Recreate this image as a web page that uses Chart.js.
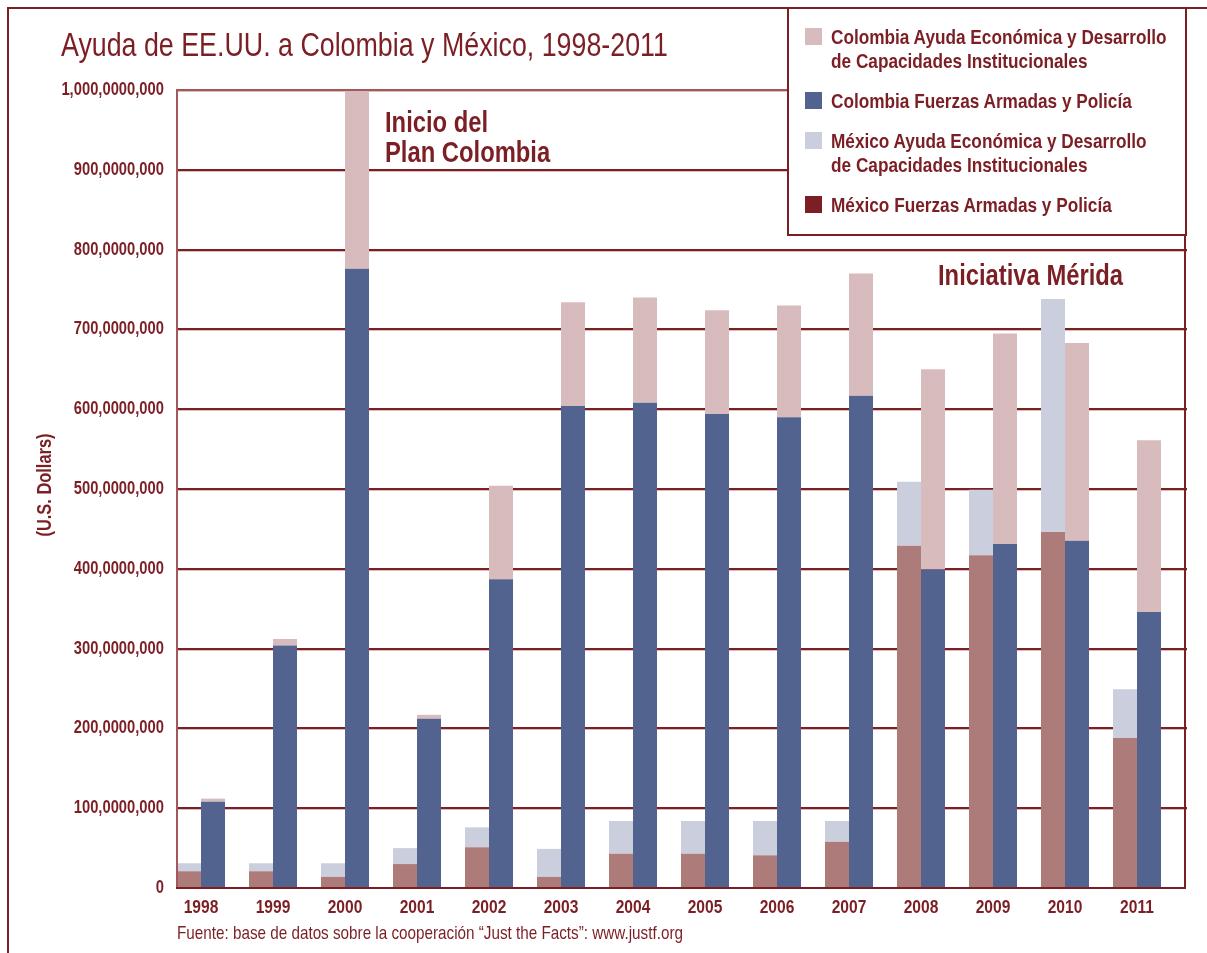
<!DOCTYPE html>
<html>
<head>
<meta charset="utf-8">
<script src="https://cdn.jsdelivr.net/npm/chart.js@4.4.0/dist/chart.umd.min.js"></script>
<style>
body { margin: 0; background: #fff; }
#wrap { position: relative; width: 1207px; height: 953px; overflow: hidden;
  font-family: "Liberation Sans", Arial, sans-serif; color: #7b1f25; }
#grafico { position: absolute; left: 0; top: 0; }
.marco { position: absolute; left: 7px; top: 7px; width: 1400px; height: 1200px;
  border-left: 2px solid #7b1f25; border-top: 2px solid #7b1f25; }
.txt { position: absolute; white-space: nowrap; line-height: 1; transform: scaleX(0.82); transform-origin: 0 0; }
#titulo { left: 61px; top: 29px; font-size: 32.7px; }
#ejeY { left: 44px; top: 485px; font-size: 20px; font-weight: bold; transform-origin: 50% 50%;
  transform: translate(-50%, -50%) rotate(-90deg) scaleX(0.82); }
#fuente { left: 177px; top: 924px; font-size: 18.6px; }
.nota { font-size: 29px; font-weight: bold; line-height: 30px; }
#leyenda { position: absolute; left: 787px; top: 7px; width: 396px; height: 225px; background: #fff;
  border: 2px solid #7b1f25; }
.item { left: 42px; font-size: 21px; font-weight: bold; line-height: 24px; }
.cuadro { position: absolute; left: 16px; width: 17px; height: 17px; }
</style>
</head>
<body>
<div id="wrap">
  <canvas id="grafico" width="1207" height="953"></canvas>
  <div class="marco"></div>
  <div class="txt" id="titulo">Ayuda de EE.UU. a Colombia y México, 1998-2011</div>
  <div class="txt" id="ejeY">(U.S. Dollars)</div>
  <div class="txt nota" style="left:385px; top:107px;">Inicio del<br>Plan Colombia</div>
  <div class="txt nota" style="left:938px; top:260px;">Iniciativa Mérida</div>
  <div class="txt" id="fuente">Fuente: base de datos sobre la cooperación “Just the Facts”: www.justf.org</div>
  <div id="leyenda"></div>
</div>
<script>
// valores en millones de dólares (altura de cada tramo de la pila)
const anios = ['1998','1999','2000','2001','2002','2003','2004','2005','2006','2007','2008','2009','2010','2011'];
const mexFuerzas = [21, 21, 14, 30, 51, 14, 43, 43, 41, 58, 429, 417, 446, 188];
const mexAyuda = [10, 10, 17, 20, 25, 35, 41, 41, 43, 26, 80, 82, 292, 61];
const colFuerzas = [108, 304, 776, 212, 387, 604, 608, 594, 590, 617, 399, 431, 435, 346];
const colAyuda = [4, 8, 224, 5, 117, 130, 132, 130, 140, 153, 251, 264, 248, 215];
const etiquetasY = ['0','100,0000,000','200,0000,000','300,0000,000','400,0000,000','500,0000,000',
  '600,0000,000','700,0000,000','800,0000,000','900,0000,000','1,000,0000,000'];

const granate = '#7b1f25';
const fuente = '"Liberation Sans", Arial, sans-serif';

// orden de apilado: de abajo hacia arriba, México a la izquierda
const series = [
  { label: 'México Fuerzas Armadas y Policía', data: mexFuerzas, color: '#ad7b79', stack: 'mex' },
  { label: 'México Ayuda Económica y Desarrollo de Capacidades Institucionales', data: mexAyuda, color: '#cbcfdd', stack: 'mex' },
  { label: 'Colombia Fuerzas Armadas y Policía', data: colFuerzas, color: '#53638f', stack: 'col' },
  { label: 'Colombia Ayuda Económica y Desarrollo de Capacidades Institucionales', data: colAyuda, color: '#d8bbbd', stack: 'col' }
];

// leyenda a mano (textos de dos líneas)
const itemsLeyenda = [
  { lineas: ['Colombia Ayuda Económica y Desarrollo', 'de Capacidades Institucionales'], color: '#d8bbbd', top: 16 },
  { lineas: ['Colombia Fuerzas Armadas y Policía'], color: '#53638f', top: 80 },
  { lineas: ['México Ayuda Económica y Desarrollo', 'de Capacidades Institucionales'], color: '#cbcfdd', top: 120 },
  { lineas: ['México Fuerzas Armadas y Policía'], color: granate, top: 184 }
];
const leyenda = document.getElementById('leyenda');
itemsLeyenda.forEach(it => {
  const c = document.createElement('div');
  c.className = 'cuadro';
  c.style.top = (it.top + 3) + 'px';
  c.style.background = it.color;
  leyenda.appendChild(c);
  const d = document.createElement('div');
  d.className = 'txt item';
  d.style.top = it.top + 'px';
  d.innerHTML = it.lineas.join('<br>');
  leyenda.appendChild(d);
});

const plotIzq = 177, plotDer = 1185;

const rejilla = {
  id: 'rejilla',
  beforeDatasetsDraw(chart) {
    const ctx = chart.ctx, y = chart.scales.y;
    ctx.save();
    y.ticks.forEach(t => {
      if (t.value === 0) return;
      const py = Math.round(y.getPixelForValue(t.value));
      ctx.fillStyle = '#dcbcbe';
      ctx.fillRect(plotIzq, py + 1, plotDer - plotIzq + 2, 1);
      ctx.fillStyle = granate;
      ctx.fillRect(plotIzq, py - 1, plotDer - plotIzq + 2, 2);
    });
    ctx.restore();
  },
  afterDatasetsDraw(chart) {
    const ctx = chart.ctx, y = chart.scales.y, x = chart.scales.x;
    const y0 = Math.round(y.getPixelForValue(0));
    const yTop = Math.round(y.getPixelForValue(1000));
    ctx.save();
    ctx.fillStyle = '#a5585c';
    ctx.fillRect(plotIzq - 1, yTop - 1, 2, y0 - yTop + 1);
    ctx.fillRect(plotIzq, yTop - 1, 787 - plotIzq, 2);
    ctx.fillStyle = granate;
    ctx.fillRect(plotIzq - 1, y0 - 1, plotDer - plotIzq + 2, 2);
    ctx.fillRect(plotDer - 1, 7, 2, y0 - 6);

    // etiquetas de los ejes en letra estrecha
    ctx.fillStyle = granate;
    ctx.textBaseline = 'middle';
    ctx.font = 'bold 18px ' + fuente;
    ctx.textAlign = 'right';
    y.ticks.forEach((t, i) => {
      ctx.save();
      ctx.translate(164, y.getPixelForValue(t.value));
      ctx.scale(0.82, 1);
      ctx.fillText(etiquetasY[i], 0, 0);
      ctx.restore();
    });
    ctx.font = 'bold 19px ' + fuente;
    ctx.textAlign = 'center';
    anios.forEach((a, i) => {
      ctx.save();
      ctx.translate(x.getPixelForValue(i), y0 + 20);
      ctx.scale(0.82, 1);
      ctx.fillText(a, 0, 0);
      ctx.restore();
    });
    ctx.restore();
  }
};

new Chart(document.getElementById('grafico'), {
  type: 'bar',
  data: {
    labels: anios,
    datasets: series.map(s => ({
      label: s.label,
      data: s.data,
      backgroundColor: s.color,
      stack: s.stack,
      borderWidth: 0,
      categoryPercentage: 0.667,
      barPercentage: 1.0
    }))
  },
  options: {
    responsive: false,
    animation: false,
    devicePixelRatio: 1,
    layout: { padding: { top: 90, right: 34, bottom: 0, left: 0 } },
    plugins: { legend: { display: false }, tooltip: { enabled: false } },
    scales: {
      x: {
        stacked: true,
        grid: { display: false, drawTicks: false },
        border: { display: false },
        ticks: { display: false },
        afterFit(s) { s.height = 65; }
      },
      y: {
        stacked: true,
        min: 0, max: 1000,
        grid: { display: false, drawTicks: false },
        border: { display: false },
        ticks: { display: false, stepSize: 100 },
        afterFit(s) { s.width = 165; }
      }
    }
  },
  plugins: [rejilla]
});
</script>
</body>
</html>
